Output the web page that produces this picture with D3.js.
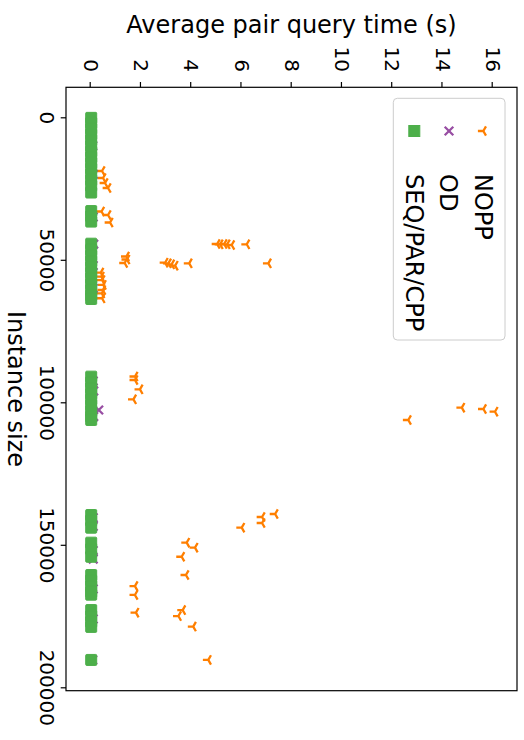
<!DOCTYPE html>
<html>
<head>
<meta charset="utf-8">
<script src="https://cdn.jsdelivr.net/npm/d3@7"></script>
<style>
  html, body { margin: 0; padding: 0; background: #fff; }
  svg { display: block; }
  text { font-family: "DejaVu Sans", sans-serif; fill: #000; }
</style>
</head>
<body>
<svg id="chart" width="524" height="740"></svg>
<script>
// ---- data (instance size, average pair query time in s) ----
const xTicks = [0, 50000, 100000, 150000, 200000];
const yTicks = [0, 2, 4, 6, 8, 10, 12, 14, 16];
const seriesNames = ["NOPP", "OD", "SEQ/PAR/CPP"];
const seriesColors = ["#ff7f00", "#984ea3", "#4daf4a"];

const noppSizes = [7960, 9720, 11470, 13230, 18840, 21300, 23050, 24800,
  33050, 34280, 36910,
  48840, 49890, 51120,
  54500, 55900, 57100, 58800, 60600, 61800, 63500,
  51020, 51230, 51580, 52070, 51230,
  44460, 44560, 44460, 44560, 44810, 44560, 51230,
  90950, 92170, 95440, 98950,
  106210, 101890, 102350, 103300,
  144000, 140250, 142350, 139190,
  149260, 151000, 154200, 160600, 164500, 167600, 173800, 172900, 175000, 178700, 190400];
const noppValues = [0.1, 0.1, 0.1, 0.1, 0.45, 0.49, 0.57, 0.69,
  0.43, 0.69, 0.77,
  1.42, 1.44, 1.35,
  0.4, 0.42, 0.45, 0.5, 0.48, 0.44, 0.45,
  2.96, 3.09, 3.22, 3.36, 3.92,
  5.03, 5.15, 5.31, 5.43, 5.61, 6.21, 7.07,
  1.76, 1.76, 1.96, 1.70,
  12.64, 14.77, 15.63, 16.09,
  6.01, 6.82, 6.82, 7.34,
  3.82, 4.15, 3.62, 3.79, 1.76, 1.76, 1.80, 3.66, 3.49, 4.08, 4.68];

const odSizes = [10000, 20000, 35000, 44500, 52000, 60000, 92500, 96000, 102700, 105000,
  140500, 143500, 152000, 155000, 165500, 176000, 190400];
const odValues = [0.08, 0.1, 0.1, 0.12, 0.1, 0.1, 0.1, 0.12, 0.32, 0.12,
  0.1, 0.1, 0.1, 0.1, 0.1, 0.1, 0.08];

const seqSizes = [200, 2000, 4000, 6000, 8000, 10000, 12000, 14000, 16000, 18000, 20000, 22000, 24000, 26400,
  32900, 34700, 36600,
  44350, 46500, 48500, 50500, 52500, 54500, 56500, 58500, 60500, 62500, 63750,
  91000, 93000, 95000, 97000, 99000, 101000, 103000, 105000, 106200,
  139550, 141500, 144000,
  149250, 151500, 154200,
  160600, 162500, 164500, 166500, 167500,
  172900, 175000, 177000, 178800,
  190400];
const seqValues = [0.02, 0.02, 0.02, 0.02, 0.02, 0.02, 0.02, 0.02, 0.02, 0.02, 0.02, 0.02, 0.02, 0.02,
  0.02, 0.02, 0.02,
  0.02, 0.02, 0.02, 0.02, 0.02, 0.02, 0.02, 0.02, 0.02, 0.02, 0.02,
  0.02, 0.02, 0.02, 0.02, 0.02, 0.02, 0.02, 0.02, 0.02,
  0.02, 0.02, 0.02,
  0.02, 0.02, 0.02,
  0.02, 0.02, 0.02, 0.02, 0.02,
  0.02, 0.02, 0.02, 0.02,
  0.02];

// ---- layout: the matplotlib figure (740 x 524) rotated 90deg clockwise ----
const W = 740, H = 524;
const svg = d3.select("#chart");
const g = svg.append("g").attr("transform", `translate(${H},0) rotate(90)`);

const plot = { left: 87.3, right: 690.7, top: 7, bottom: 458 };
const x = d3.scaleLinear().domain([-10526, 201193]).range([plot.left, plot.right]);
const y = d3.scaleLinear().domain([-0.983, 16.967]).range([plot.bottom, plot.top]);

g.append("clipPath").attr("id", "clip").append("rect")
  .attr("x", plot.left).attr("y", plot.top)
  .attr("width", plot.right - plot.left).attr("height", plot.bottom - plot.top);

const marks = g.append("g").attr("clip-path", "url(#clip)");

const R = 5.4;
const triPath = `M0,0L0,${R}M0,0L${-0.866 * R},${-0.5 * R}M0,0L${0.866 * R},${-0.5 * R}`;
const xr = 4.3;
const xPath = `M${-xr},${-xr}L${xr},${xr}M${-xr},${xr}L${xr},${-xr}`;
const S = 11;

// NOPP
marks.append("g").selectAll("path").data(noppSizes.map((s, i) => [s, noppValues[i]]))
  .join("path")
  .attr("transform", d => `translate(${x(d[0])},${y(d[1])})`)
  .attr("d", triPath)
  .attr("fill", "none").attr("stroke", seriesColors[0]).attr("stroke-width", 2.3);

// OD
marks.append("g").selectAll("path").data(odSizes.map((s, i) => [s, odValues[i]]))
  .join("path")
  .attr("transform", d => `translate(${x(d[0])},${y(d[1])})`)
  .attr("d", xPath)
  .attr("fill", "none").attr("stroke", seriesColors[1]).attr("stroke-width", 2.3);

// SEQ/PAR/CPP
marks.append("g").selectAll("rect").data(seqSizes.map((s, i) => [s, seqValues[i]]))
  .join("rect")
  .attr("x", d => x(d[0]) - S / 2).attr("y", d => y(d[1]) - S / 2)
  .attr("width", S).attr("height", S).attr("rx", 1)
  .attr("fill", seriesColors[2]).attr("stroke", seriesColors[2]).attr("stroke-width", 1);

// frame
g.append("rect")
  .attr("x", plot.left).attr("y", plot.top)
  .attr("width", plot.right - plot.left).attr("height", plot.bottom - plot.top)
  .attr("fill", "none").attr("stroke", "#000").attr("stroke-width", 1.2);

// axes
const xAxis = g.append("g").attr("transform", `translate(0,${plot.bottom})`)
  .call(d3.axisBottom(x).tickValues(xTicks).tickSize(5.3).tickPadding(7).tickFormat(d3.format("d")));
const yAxis = g.append("g").attr("transform", `translate(${plot.left},0)`)
  .call(d3.axisLeft(y).tickValues(yTicks).tickSize(5.3).tickPadding(10).tickFormat(d3.format("d")));
[xAxis, yAxis].forEach(a => {
  a.select(".domain").remove();
  a.selectAll(".tick line").attr("stroke", "#000").attr("stroke-width", 1.2);
  a.selectAll(".tick text").attr("font-size", 20).attr("font-family", "DejaVu Sans").attr("fill", "#000");
});

// axis labels
g.append("text")
  .attr("x", (plot.left + plot.right) / 2).attr("y", 516)
  .attr("text-anchor", "middle").attr("font-size", 24)
  .text("Instance size");
g.append("text")
  .attr("transform", `translate(33.3,${(plot.top + plot.bottom) / 2}) rotate(-90)`)
  .attr("text-anchor", "middle").attr("font-size", 24)
  .text("Average pair query time (s)");

// legend
const lg = g.append("g");
lg.append("rect")
  .attr("x", 98.3).attr("y", 19).attr("width", 241.7).attr("height", 111.7)
  .attr("rx", 4).attr("ry", 4)
  .attr("fill", "#fff").attr("fill-opacity", 0.8)
  .attr("stroke", "#cccccc").attr("stroke-width", 1);
const legY = [40.7, 75, 109.7];
seriesNames.forEach((name, i) => {
  const cy = legY[i], cx = 131;
  if (i === 0) {
    lg.append("path").attr("transform", `translate(${cx},${cy})`).attr("d", triPath)
      .attr("fill", "none").attr("stroke", seriesColors[0]).attr("stroke-width", 2.3);
  } else if (i === 1) {
    lg.append("path").attr("transform", `translate(${cx},${cy})`).attr("d", xPath)
      .attr("fill", "none").attr("stroke", seriesColors[1]).attr("stroke-width", 2.3);
  } else {
    lg.append("rect").attr("x", cx - S / 2).attr("y", cy - S / 2).attr("width", S).attr("height", S)
      .attr("fill", seriesColors[2]).attr("stroke", seriesColors[2]).attr("stroke-width", 1);
  }
  lg.append("text").attr("x", 174).attr("y", cy).attr("dy", "0.36em")
    .attr("font-size", 24).text(name);
});
</script>
</body>
</html>
